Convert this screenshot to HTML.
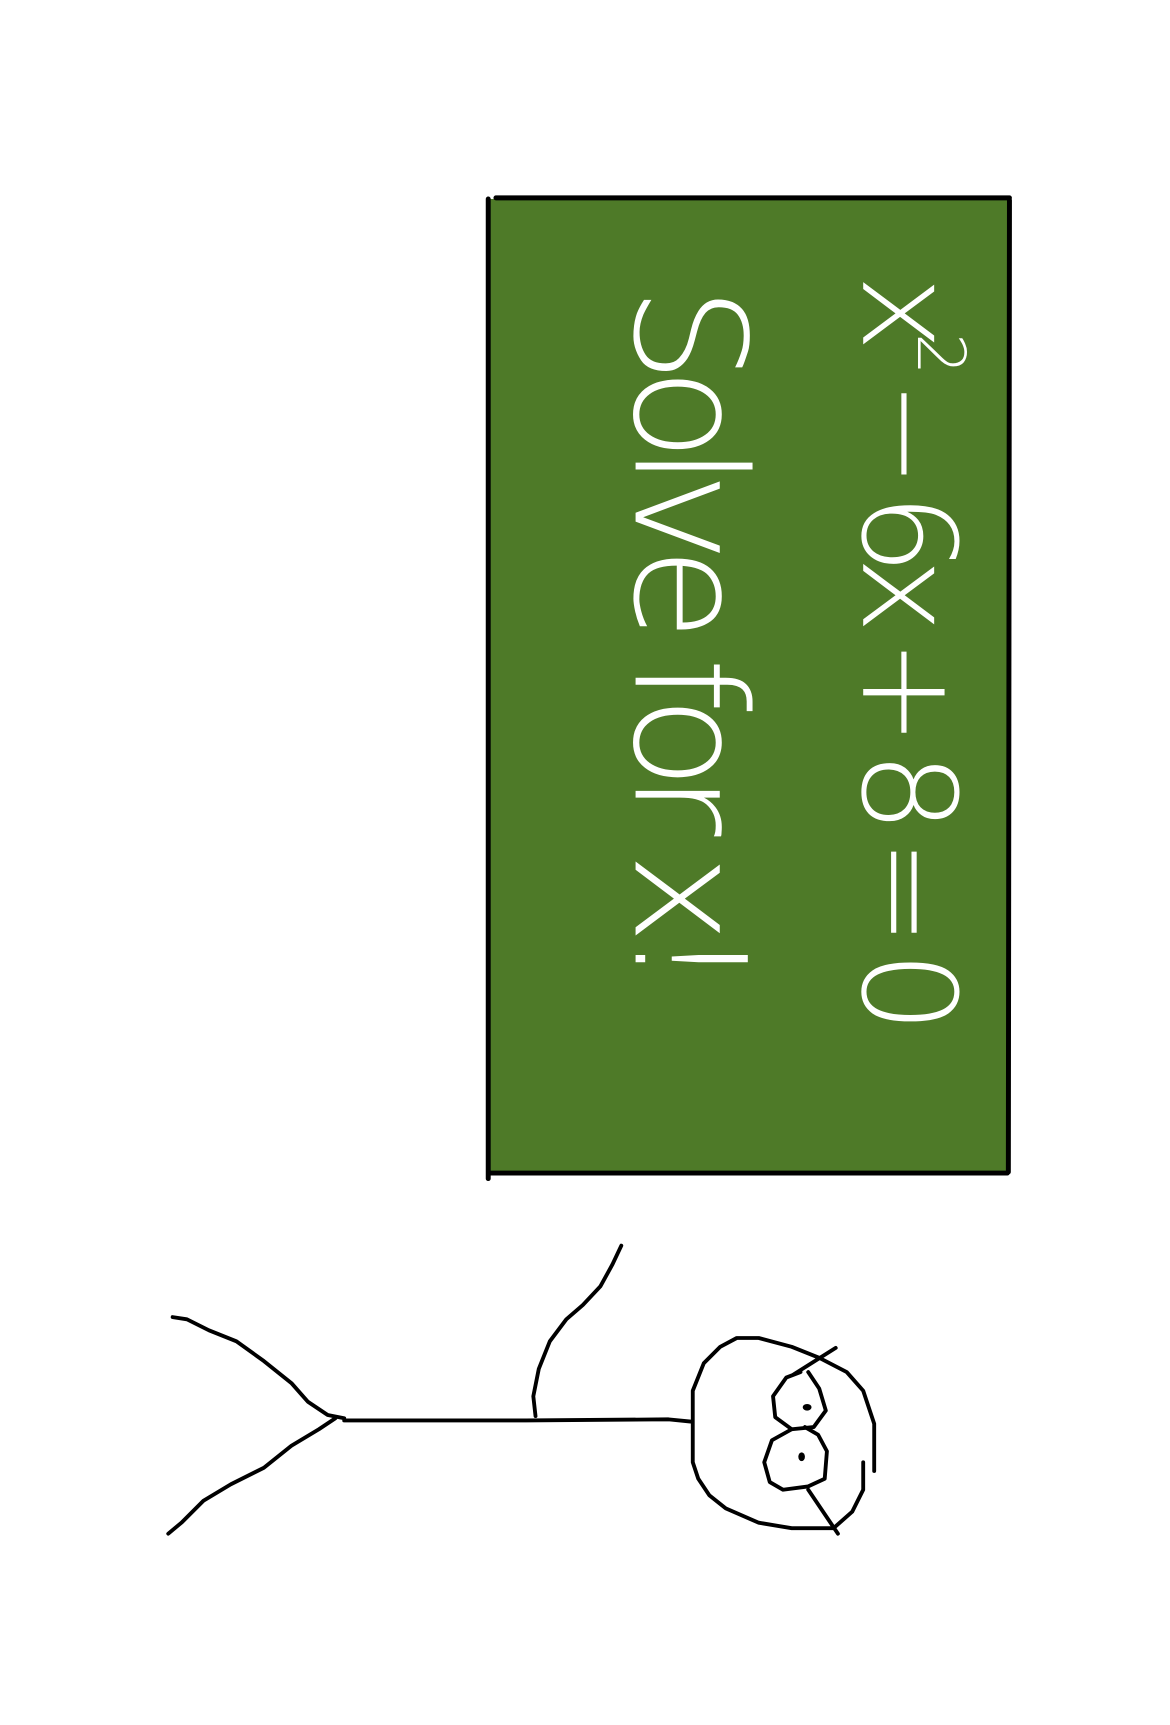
<!DOCTYPE html>
<html><head><meta charset="utf-8"><style>
html,body{margin:0;padding:0;background:#fff;}
svg{display:block;}
</style></head>
<body>
<svg width="1170" height="1725" viewBox="0 0 1064 1569" preserveAspectRatio="none" xmlns="http://www.w3.org/2000/svg">
  <rect x="0" y="0" width="1064" height="1569" fill="#ffffff"/>
  <g>
    <rect x="446" y="181" width="471" height="886" fill="#4e7a28"/>
    <path d="M444,181 L444,1072 M451,180 L918,180 M918,182 L917,1066 M444,1067 L916,1067" stroke="#000" stroke-width="4.5" stroke-linecap="round" fill="none"/>
    <text transform="translate(785,250) rotate(90)" x="0" y="0" font-family="'DejaVu Sans ExtraLight', 'DejaVu Sans', 'Liberation Sans', sans-serif" font-weight="200" font-size="118" fill="#fff" textLength="690" lengthAdjust="spacing">x<tspan font-size="60" dy="-50">2</tspan><tspan dy="50"> − 6x + 8 = 0</tspan></text>
    <text transform="translate(578,260) rotate(90)" x="0" y="0" font-family="'DejaVu Sans ExtraLight', 'DejaVu Sans', 'Liberation Sans', sans-serif" font-weight="200" font-size="140" fill="#fff" textLength="640" lengthAdjust="spacing">Solve for x!</text>
  </g>
  <g fill="none" stroke="#000" stroke-width="3.5" stroke-linecap="round" stroke-linejoin="round">
    <path d="M313,1292 L478,1292 L608,1291 L628,1293"/>
    <path d="M157,1198 L170,1200 L190,1210 L215,1220 L240,1238 L265,1258 L280,1275 L298,1287 L313,1290"/>
    <path d="M153,1395 L165,1385 L185,1365 L210,1350 L240,1335 L265,1315 L290,1300 L305,1290"/>
    <path d="M487,1288 L485,1270 L490,1245 L500,1220 L515,1200 L530,1187 L546,1170 L557,1150 L565,1133"/>
    <path d="M630,1292 L630,1265 L640,1240 L655,1225 L670,1217 L690,1217 L720,1225 L745,1235 L770,1248 L785,1265 L795,1295 L795,1338"/>
    <path d="M630,1293 L630,1330 L635,1345 L645,1360 L660,1372 L690,1385 L720,1390 L758,1390 L775,1375 L785,1355 L785,1330"/>
    <path d="M735,1248 L745,1263 L751,1283 L740,1298 L720,1300 L705,1289 L703,1270 L715,1253 L728,1248"/>
    <path d="M720,1300 L702,1310 L695,1330 L700,1348 L712,1355 L735,1352 L750,1345 L752,1320 L744,1305 L732,1298"/>
    <path d="M722,1250 L760,1226"/>
    <path d="M735,1355 L762,1395"/>
  </g>
  <ellipse cx="734" cy="1280" rx="4" ry="3" fill="#000"/>
  <ellipse cx="729" cy="1325" rx="3" ry="4" fill="#000"/>
</svg>
</body></html>
